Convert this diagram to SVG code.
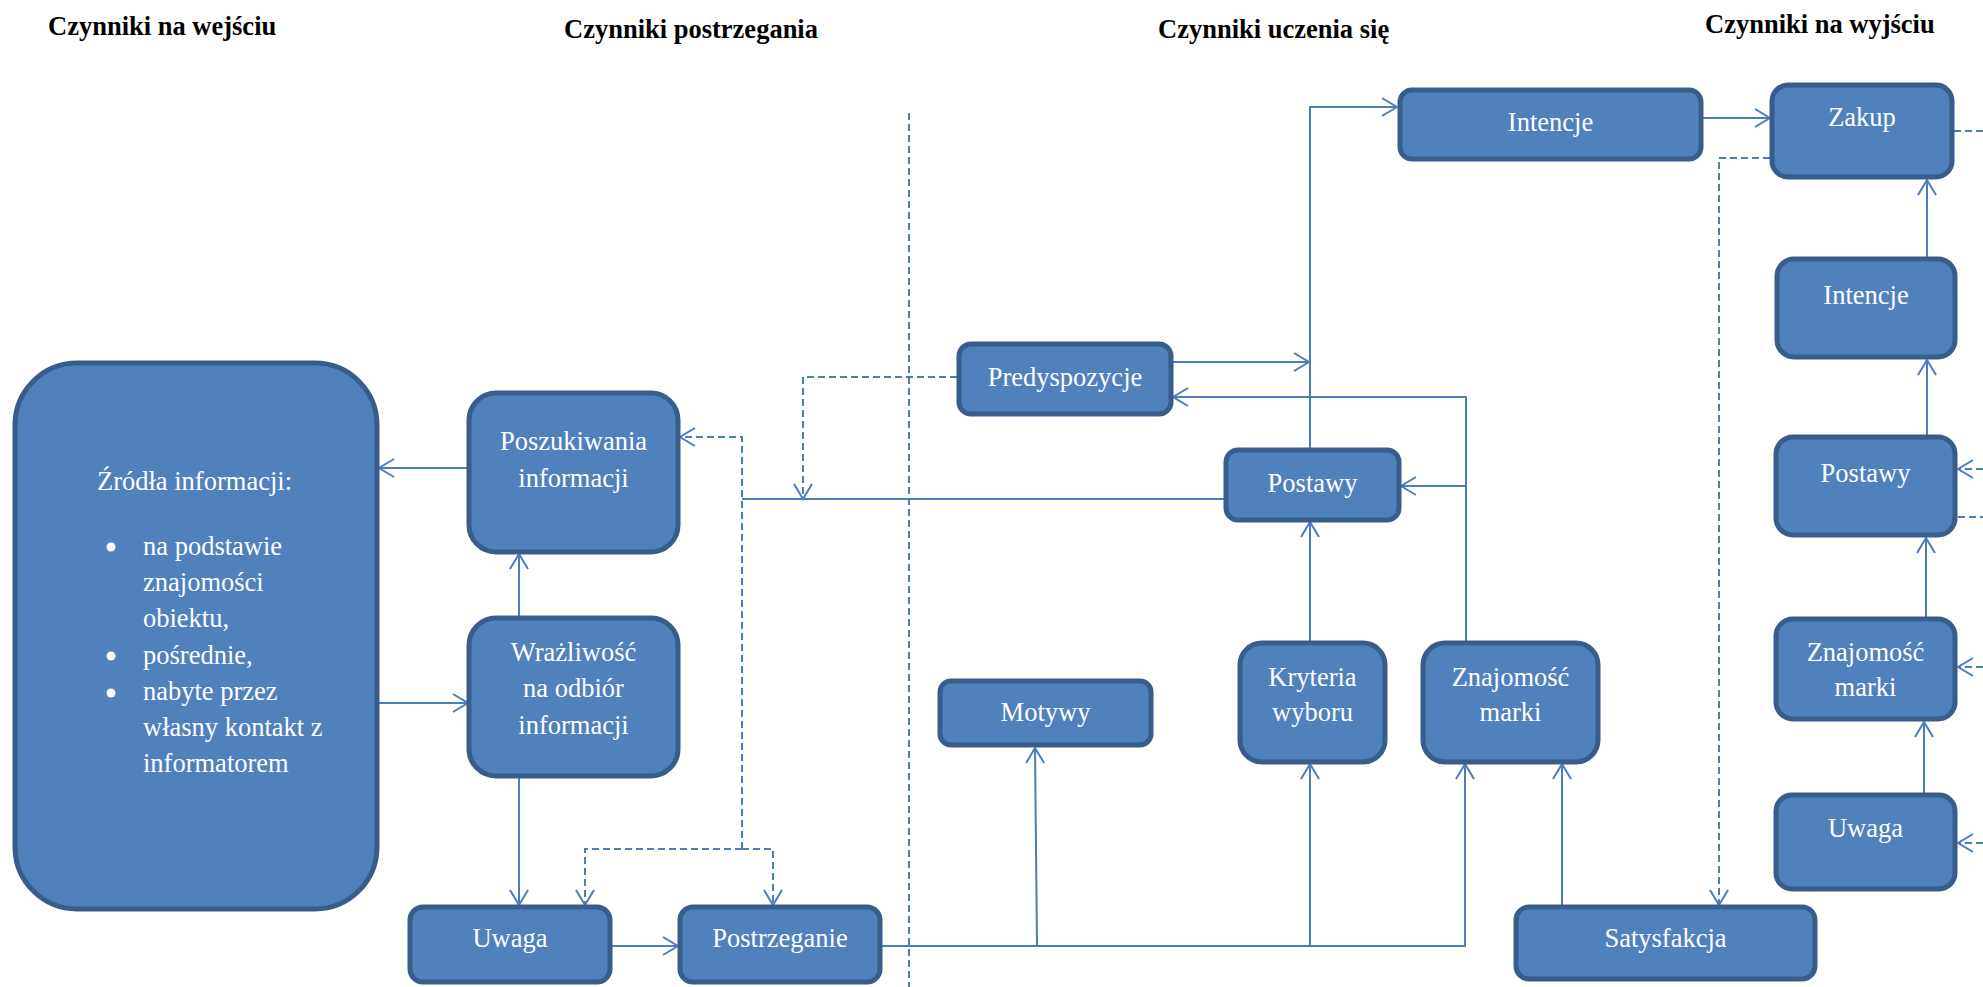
<svg xmlns="http://www.w3.org/2000/svg" width="1983" height="987" viewBox="0 0 1983 987">
  <style>
    .node { fill: #4F81BD; stroke: #385D8A; stroke-width: 5; }
    .lbl { font-family: "Liberation Serif", "Times New Roman", serif; font-size: 26.5px; fill: #FFFFFF; text-anchor: middle; }
    .lbl-l { font-family: "Liberation Serif", "Times New Roman", serif; font-size: 26.5px; fill: #FFFFFF; }
    .head { font-family: "Liberation Serif", "Times New Roman", serif; font-size: 26.5px; font-weight: bold; fill: #000000; }
    .wire { fill: none; stroke: #4A7EBB; stroke-width: 2; }
    .dash { fill: none; stroke: #4A7EBB; stroke-width: 2; stroke-dasharray: 7 4; }
    .arr { marker-end: url(#open); }
  </style>
  <defs>
    <marker id="open" markerUnits="userSpaceOnUse" viewBox="-18 -11 20 22" refX="0" refY="0" markerWidth="20" markerHeight="22" orient="auto">
      <path d="M-15,-9 L0,0 L-15,9" fill="none" stroke="#4A7EBB" stroke-width="2"/>
    </marker>
  </defs>

  <rect width="1983" height="987" fill="#FFFFFF"/>

  <!-- column headings -->
  <g id="headings">
    <text class="head" x="48" y="35">Czynniki na wejściu</text>
    <text class="head" x="564" y="38">Czynniki postrzegania</text>
    <text class="head" x="1158" y="38">Czynniki uczenia się</text>
    <text class="head" x="1705" y="33">Czynniki na wyjściu</text>
  </g>

  <!-- connectors -->
  <g id="connectors">
    <path class="dash" d="M909,113 V987"/>

    <path class="wire arr" d="M468,468 H379"/>
    <path class="wire arr" d="M379,703 H468"/>
    <path class="wire arr" d="M519,616 V554"/>
    <path class="wire arr" d="M519,778 V905"/>
    <path class="wire arr" d="M612,946 H678"/>

    <path class="wire arr" d="M882,946 H1465 V764"/>
    <path class="wire arr" d="M1037,946 L1035,748"/>
    <path class="wire arr" d="M1310,946 V764"/>
    <path class="wire arr" d="M1562,905 V764"/>

    <path class="wire arr" d="M1310,641 V522"/>
    <path class="wire arr" d="M1466,641 V397 H1173"/>
    <path class="wire arr" d="M1466,486 H1401"/>
    <path class="wire arr" d="M1310,448 V107 H1397"/>
    <path class="wire arr" d="M1173,362 H1309"/>
    <path class="wire" d="M1224,499 H742"/>

    <path class="wire arr" d="M1703,118 H1770"/>
    <path class="wire arr" d="M1927,257 V180"/>
    <path class="wire arr" d="M1927,435 V360"/>
    <path class="wire arr" d="M1926,617 V538"/>
    <path class="wire arr" d="M1924,793 V722"/>

    <path class="dash arr" d="M742,849 V437 H680"/>
    <path class="dash arr" d="M742,849 H585 V905"/>
    <path class="dash arr" d="M742,849 H773 V905"/>
    <path class="dash arr" d="M957,377 H803 V499"/>

    <path class="dash arr" d="M1770,158 H1719 V905"/>
    <path class="dash" d="M1954,131 H1983"/>
    <path class="dash arr" d="M1983,469 H1958"/>
    <path class="dash" d="M1958,517 H1983"/>
    <path class="dash arr" d="M1983,667 H1958"/>
    <path class="dash arr" d="M1983,843 H1958"/>
  </g>

  <!-- input factors -->
  <g id="zrodla">
    <rect class="node" x="15" y="363" width="362" height="546" rx="62"/>
    <text class="lbl-l" x="97" y="490">Źródła informacji:</text>
    <circle cx="111" cy="547" r="4.5" fill="#FFFFFF"/>
    <circle cx="111" cy="656" r="4.5" fill="#FFFFFF"/>
    <circle cx="111" cy="693" r="4.5" fill="#FFFFFF"/>
    <text class="lbl-l" x="143" y="555">na podstawie</text>
    <text class="lbl-l" x="143" y="591">znajomości</text>
    <text class="lbl-l" x="143" y="627">obiektu,</text>
    <text class="lbl-l" x="143" y="664">pośrednie,</text>
    <text class="lbl-l" x="143" y="700">nabyte przez</text>
    <text class="lbl-l" x="143" y="736">własny kontakt z</text>
    <text class="lbl-l" x="143" y="772">informatorem</text>
  </g>

  <!-- perception factors -->
  <g id="poszukiwania">
    <rect class="node" x="469" y="393" width="209" height="159" rx="27"/>
    <text class="lbl" x="573.5" y="450">Poszukiwania</text>
    <text class="lbl" x="573.5" y="487">informacji</text>
  </g>
  <g id="wrazliwosc">
    <rect class="node" x="469" y="618" width="209" height="158" rx="27"/>
    <text class="lbl" x="573.5" y="661">Wrażliwość</text>
    <text class="lbl" x="573.5" y="697">na odbiór</text>
    <text class="lbl" x="573.5" y="734">informacji</text>
  </g>
  <g id="uwaga-1">
    <rect class="node" x="410" y="907" width="200" height="75" rx="13"/>
    <text class="lbl" x="510" y="947">Uwaga</text>
  </g>
  <g id="postrzeganie">
    <rect class="node" x="680" y="907" width="200" height="75" rx="13"/>
    <text class="lbl" x="780" y="947">Postrzeganie</text>
  </g>

  <!-- learning factors -->
  <g id="predyspozycje">
    <rect class="node" x="959" y="344" width="212" height="70" rx="12"/>
    <text class="lbl" x="1065" y="386">Predyspozycje</text>
  </g>
  <g id="postawy-1">
    <rect class="node" x="1226" y="450" width="173" height="70" rx="12"/>
    <text class="lbl" x="1312.5" y="492">Postawy</text>
  </g>
  <g id="intencje-1">
    <rect class="node" x="1400" y="90" width="301" height="69" rx="12"/>
    <text class="lbl" x="1550.5" y="131">Intencje</text>
  </g>
  <g id="motywy">
    <rect class="node" x="940" y="681" width="211" height="64" rx="11"/>
    <text class="lbl" x="1045.5" y="721">Motywy</text>
  </g>
  <g id="kryteria">
    <rect class="node" x="1240" y="643" width="145" height="119" rx="22"/>
    <text class="lbl" x="1312.5" y="686">Kryteria</text>
    <text class="lbl" x="1312.5" y="721">wyboru</text>
  </g>
  <g id="znajomosc-1">
    <rect class="node" x="1423" y="643" width="175" height="119" rx="22"/>
    <text class="lbl" x="1510.5" y="686">Znajomość</text>
    <text class="lbl" x="1510.5" y="721">marki</text>
  </g>
  <g id="satysfakcja">
    <rect class="node" x="1516" y="907" width="299" height="72" rx="13"/>
    <text class="lbl" x="1665.5" y="947">Satysfakcja</text>
  </g>

  <!-- output factors -->
  <g id="zakup">
    <rect class="node" x="1772" y="85" width="180" height="92" rx="16"/>
    <text class="lbl" x="1862" y="126">Zakup</text>
  </g>
  <g id="intencje-2">
    <rect class="node" x="1777" y="259" width="178" height="98" rx="17"/>
    <text class="lbl" x="1866" y="304">Intencje</text>
  </g>
  <g id="postawy-2">
    <rect class="node" x="1776" y="437" width="179" height="98" rx="17"/>
    <text class="lbl" x="1865.5" y="482">Postawy</text>
  </g>
  <g id="znajomosc-2">
    <rect class="node" x="1776" y="619" width="179" height="100" rx="17"/>
    <text class="lbl" x="1865.5" y="661">Znajomość</text>
    <text class="lbl" x="1865.5" y="696">marki</text>
  </g>
  <g id="uwaga-2">
    <rect class="node" x="1776" y="795" width="179" height="94" rx="16"/>
    <text class="lbl" x="1865.5" y="837">Uwaga</text>
  </g>
</svg>
